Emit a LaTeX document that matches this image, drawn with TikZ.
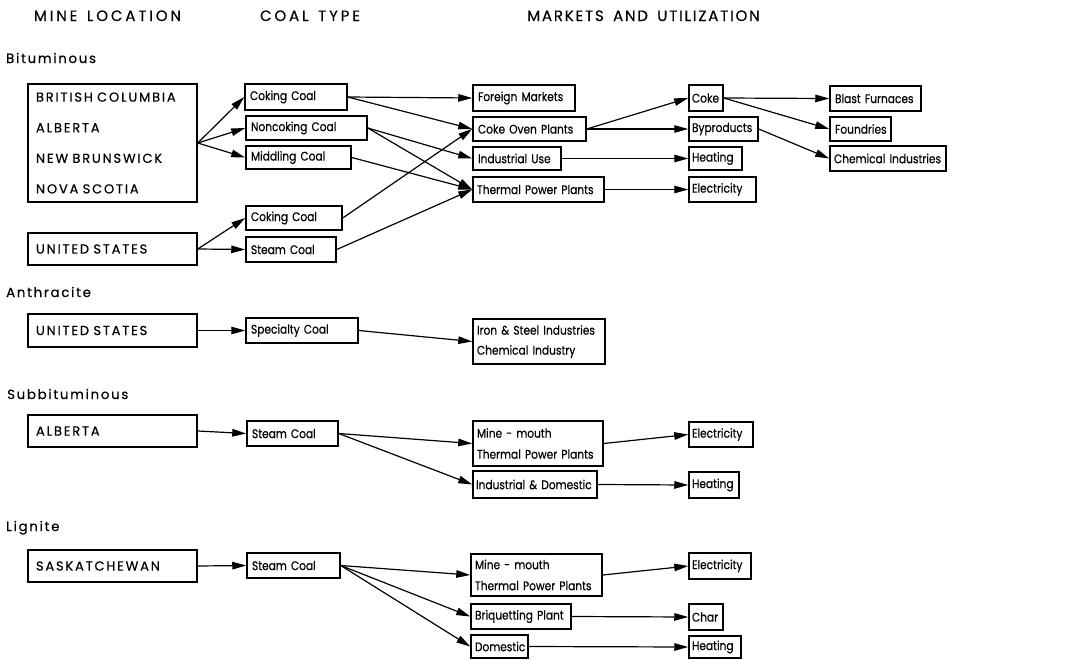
\documentclass[tikz,border=0pt]{standalone}
\usepackage{fontspec}
\setmainfont{Poppins}[WordSpace=2.0,FakeStretch=0.85,FakeBold=0.4]
\newfontfamily\hdfont{Poppins}[LetterSpace=19,WordSpace=1.4,FakeBold=0.4]
\newfontfamily\hdfontb{Poppins}[LetterSpace=12,WordSpace=1.6,FakeBold=0.4]
\newfontfamily\capfont{Poppins}[LetterSpace=14,WordSpace=2,FakeBold=0.4]
\newfontfamily\secfont{Poppins}[LetterSpace=13,FakeBold=0.4]
\usetikzlibrary{arrows.meta}
\tikzset{
  box/.style={draw, line width=1.5pt, inner ysep=0pt, align=left, font=\fontsize{12.5}{14}\selectfont},
  capbox/.style={font=\capfont\fontsize{13}{15}\selectfont},
  arr/.style={line width=1.2pt, -{Triangle[length=14pt,width=7.5pt]}},
  heading/.style={font=\hdfont\fontsize{15}{17}\selectfont, inner sep=0pt, anchor=base},
  headingb/.style={font=\hdfontb\fontsize{15}{17}\selectfont, inner sep=0pt, anchor=base},
  section/.style={font=\secfont\fontsize{13.3}{15}\selectfont, inner sep=0pt, anchor=base west}
}
\newcommand\bx[7][5]{%
  \pgfmathsetmacro\bw{#5-#3}%
  \pgfmathsetmacro\bh{#6-#4}%
  \pgfmathsetmacro\bcx{(#3+#5)/2}%
  \pgfmathsetmacro\bcy{(#4+#6)/2}%
  \pgfmathsetmacro\tw{\bw-2*#1}%
  \node[box, inner xsep=#1pt, minimum height=\bh pt, text width=\tw pt] (#2) at (\bcx,\bcy) {#7};}
\newcommand\cbx[6]{%
  \pgfmathsetmacro\bw{#4-#2}%
  \pgfmathsetmacro\bh{#5-#3}%
  \pgfmathsetmacro\bcx{(#2+#4)/2}%
  \pgfmathsetmacro\bcy{(#3+#5)/2}%
  \pgfmathsetmacro\tw{\bw-16}%
  \node[box, capbox, inner xsep=8pt, minimum height=\bh pt, text width=\tw pt] (#1) at (\bcx,\bcy) {#6};}
\begin{document}
\begin{tikzpicture}[x=1pt,y=-1pt]
\useasboundingbox (0,0) rectangle (1066,659);
% headings
\node[heading] (h1) at (107.5,21) {MINE LOCATION};
\node[heading] (h2) at (310,21) {COAL TYPE};
\node[headingb] (h3) at (643.5,21) {MARKETS AND UTILIZATION};
\node[section] (s1) at (6,63) {Bituminous};
\node[section] (s2) at (6,297) {Anthracite};
\node[section] (s3) at (7,399) {Subbituminous};
\node[section] (s4) at (6,531) {Lignite};
% Bituminous
\cbx{bc}{28}{84}{197}{202}{\mbox{BRITISH COLUMBIA}\\[15.6pt]ALBERTA\\[15.6pt]\mbox{NEW BRUNSWICK}\\[15.6pt]\mbox{NOVA SCOTIA}}
\cbx{usb}{28}{233}{197}{265}{\mbox{UNITED STATES}}
\bx{cc1}{245}{84}{347}{110}{\mbox{Coking Coal}}
\bx{nc}{246}{116}{367}{140}{\mbox{Noncoking Coal}}
\bx{mc}{246}{146}{351}{169}{\mbox{Middling Coal}}
\bx{cc2}{246}{206}{342}{230}{\mbox{Coking Coal}}
\bx{sc1}{246}{237}{336}{262}{\mbox{Steam Coal}}
\bx{fm}{473}{85}{575}{111}{\mbox{Foreign Markets}}
\bx{cop}{473}{117}{586}{141}{\mbox{Coke Oven Plants}}
\bx{iu}{473}{147}{561}{170}{\mbox{Industrial Use}}
\bx[4]{tpp}{473}{177}{604}{202}{\mbox{Thermal Power Plants}}
\bx[3]{coke}{689}{85}{723}{111}{Coke}
\bx[3]{byp}{689}{117}{758}{141}{Byproducts}
\bx[3]{heat1}{689}{147}{742}{170}{Heating}
\bx[3]{elec1}{689}{177}{756}{202}{Electricity}
\bx{bf}{830}{86}{921}{111}{\mbox{Blast Furnaces}}
\bx{fd}{830}{117}{891}{141}{Foundries}
\bx[4]{ci}{830}{146}{946}{171}{\mbox{Chemical Industries}}
% Anthracite
\cbx{usa}{28}{314}{197}{347}{\mbox{UNITED STATES}}
\bx{spc}{246}{318}{358}{343}{\mbox{Specialty Coal}}
\bx[4]{ise}{473}{319}{605}{364}{\mbox{Iron \& Steel Industries}\\[6pt]\mbox{Chemical Industry}}
% Subbituminous
\cbx{alb}{28}{415}{197}{447}{ALBERTA}
\bx{sc2}{247}{421}{338}{446}{\mbox{Steam Coal}}
\bx[4]{mm1}{473}{421}{603}{466}{\mbox{Mine - mouth}\\[7pt]\mbox{Thermal Power Plants}}
\bx[3]{ind}{473}{471}{597}{498}{\mbox{Industrial \& Domestic}}
\bx[3]{elec2}{689}{422}{753}{447}{Electricity}
\bx[3]{heat2}{689}{472}{739}{498}{Heating}
% Lignite
\cbx{sas}{28}{550}{197}{582}{SASKATCHEWAN}
\bx{sc3}{247}{553}{340}{578}{\mbox{Steam Coal}}
\bx[4]{mm2}{471}{554}{602}{596}{\mbox{Mine - mouth}\\[7pt]\mbox{Thermal Power Plants}}
\bx[4]{bp}{471}{604}{571}{629}{\mbox{Briquetting Plant}}
\bx[4]{dom}{471}{635}{528}{658}{Domestic}
\bx[3]{elec3}{689}{553}{751}{579}{Electricity}
\bx[3]{char}{689}{604}{723}{630}{Char}
\bx[3]{heat3}{689}{636}{741}{658}{Heating}
% connectors
\draw[arr] (bc.east) -- (cc1.west);
\draw[arr] (bc.east) -- (nc.west);
\draw[arr] (bc.east) -- (mc.west);
\draw[arr] (usb.east) -- (cc2.west);
\draw[arr] (usb.east) -- (sc1.west);
\draw[arr] (cc1.east) -- (fm.west);
\draw[arr] (cc1.east) -- (cop.west);
\draw[arr] (nc.east) -- (iu.west);
\draw[arr] (nc.east) -- (tpp.west);
\draw[arr] (mc.east) -- (tpp.west);
\draw[arr] (cc2.east) -- (cop.west);
\draw[arr] (sc1.east) -- (tpp.west);
\draw[arr] (cop.east) -- (coke.west);
\draw[arr] (cop.east) -- (byp.west);
\draw[arr] (iu.east) -- (heat1.west);
\draw[arr] (tpp.east) -- (elec1.west);
\draw[arr] (coke.east) -- (bf.west);
\draw[arr] (coke.east) -- (fd.west);
\draw[arr] (byp.east) -- (ci.west);
\draw[arr] (usa.east) -- (spc.west);
\draw[arr] (spc.east) -- (ise.west);
\draw[arr] (alb.east) -- (sc2.west);
\draw[arr] (sc2.east) -- (mm1.west);
\draw[arr] (sc2.east) -- (ind.west);
\draw[arr] (mm1.east) -- (elec2.west);
\draw[arr] (ind.east) -- (heat2.west);
\draw[arr] (sas.east) -- (sc3.west);
\draw[arr] (sc3.east) -- (mm2.west);
\draw[arr] (sc3.east) -- (bp.west);
\draw[arr] (sc3.east) -- (dom.west);
\draw[arr] (mm2.east) -- (elec3.west);
\draw[arr] (bp.east) -- (char.west);
\draw[arr] (dom.east) -- (heat3.west);
\end{tikzpicture}
\end{document}
